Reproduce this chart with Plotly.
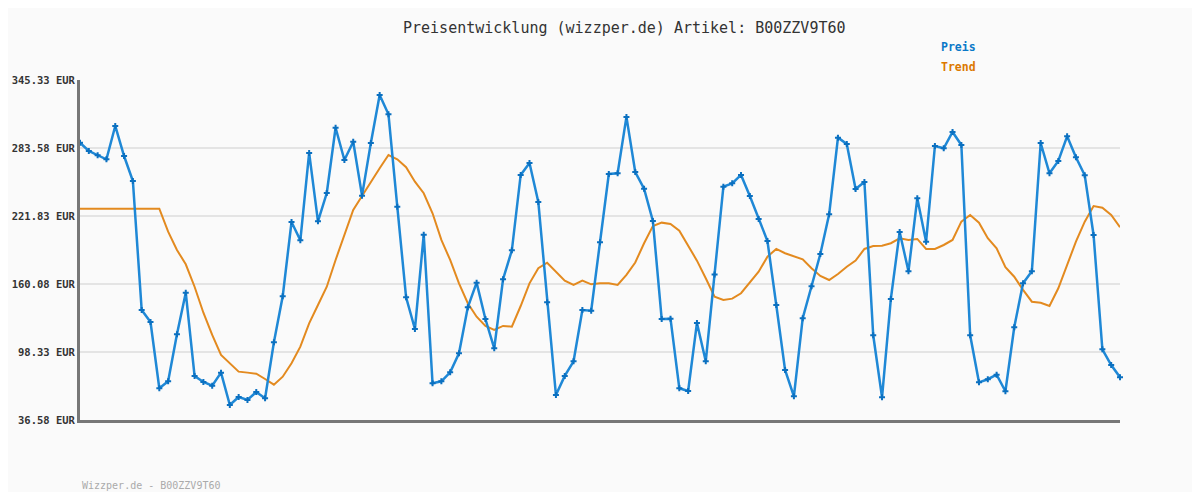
import plotly.graph_objects as go

# Price series (EUR)
preis = [288.4, 280.9, 277.0, 273.3, 303.6, 276.3, 253.6, 136.5, 125.6, 65.4,
         71.7, 114.4, 152.2, 76.6, 71.1, 67.7, 79.6, 50.2, 57.5, 54.8,
         62.0, 56.3, 107.2, 148.9, 216.4, 199.8, 279.1, 217.0, 242.7, 302.0,
         272.7, 289.3, 240.3, 288.1, 331.7, 314.2, 230.3, 148.0, 119.2, 204.9,
         69.9, 71.7, 79.9, 97.2, 138.9, 161.3, 128.3, 101.7, 164.4, 190.7,
         259.1, 270.0, 234.6, 143.5, 59.3, 76.6, 89.9, 136.5, 135.9, 198.0,
         260.0, 260.6, 311.8, 261.8, 246.6, 217.3, 128.3, 128.6, 65.4, 62.9,
         124.7, 89.9, 168.7, 248.5, 251.5, 259.1, 240.0, 219.1, 199.1, 141.0,
         82.0, 58.1, 129.0, 158.0, 187.3, 223.4, 293.0, 287.2, 246.4, 252.7,
         113.5, 57.2, 146.5, 207.3, 171.6, 237.9, 198.5, 285.4, 283.3, 298.1,
         286.3, 113.5, 70.8, 73.6, 77.7, 62.7, 120.8, 160.7, 171.6, 288.1,
         260.6, 271.8, 294.2, 275.2, 258.8, 204.6, 100.8, 86.5, 75.4]

# Trend series (EUR)
trend = [228.5, 228.5, 228.5, 228.5, 228.5, 228.5, 228.5, 228.5, 228.5, 228.5,
         207.6, 191.0, 178.0, 157.6, 134.0, 113.8, 95.6, 88.1, 80.5, 79.6,
         78.6, 73.8, 68.7, 75.9, 88.1, 103.2, 124.4, 141.0, 157.6, 181.9,
         204.6, 227.3, 240.0, 253.0, 265.2, 277.2, 273.3, 266.1, 253.0, 242.5,
         224.3, 200.1, 181.9, 160.7, 142.6, 130.4, 122.0, 118.3, 122.0, 121.3,
         140.1, 160.7, 174.4, 179.4, 171.3, 163.1, 159.2, 163.1, 159.8, 160.7,
         160.7, 159.2, 168.3, 179.6, 197.1, 212.8, 215.8, 214.6, 208.5, 195.5,
         181.3, 165.3, 148.6, 145.6, 146.8, 151.7, 161.3, 171.3, 184.9, 191.9,
         188.0, 184.9, 182.5, 174.4, 167.4, 163.7, 169.2, 175.8, 181.3, 191.9,
         194.6, 194.9, 197.1, 201.6, 200.1, 201.0, 191.9, 191.9, 195.5, 200.1,
         216.7, 222.8, 215.8, 201.6, 192.5, 175.3, 166.7, 154.7, 144.0, 143.1,
         140.1, 156.2, 177.4, 198.5, 216.7, 230.9, 229.4, 222.8, 211.6]

tick_values = [36.58, 98.33, 160.08, 221.83, 283.58, 345.33]
tick_labels = ["36.58 EUR", "98.33 EUR", "160.08 EUR", "221.83 EUR", "283.58 EUR", "345.33 EUR"]

title_text = "Preisentwicklung (wizzper.de) Artikel: B00ZZV9T60"
footer_text = "Wizzper.de - B00ZZV9T60"

x = list(range(len(preis)))
MONO = "DejaVu Sans Mono"

fig = go.Figure()
fig.add_trace(go.Scatter(
    x=x, y=trend, mode="lines", name="Trend",
    line=dict(color="#e38a1f", width=2), cliponaxis=False, hoverinfo="skip"))
fig.add_trace(go.Scatter(
    x=x, y=preis, mode="lines+markers", name="Preis",
    line=dict(color="#1f88d6", width=2.5),
    marker=dict(symbol="cross", size=5, color="#0b70c0", line=dict(width=0)),
    cliponaxis=False))

fig.update_layout(
    width=1184, height=484,
    margin=dict(l=72, r=72, t=72, b=72, autoexpand=False),
    paper_bgcolor="#fafafa", plot_bgcolor="#fafafa",
    showlegend=False,
    font=dict(family=MONO, color="#333333"),
    xaxis=dict(range=[0, len(preis) - 1], showgrid=False, zeroline=False,
               showticklabels=False, ticks="", showline=True, automargin=False,
               linecolor="#777777", linewidth=3),
    yaxis=dict(range=[tick_values[0], tick_values[-1]], tickvals=tick_values,
               ticktext=tick_labels, showgrid=True, gridcolor="#e4e4e4",
               gridwidth=2, zeroline=False, showline=True, automargin=False,
               linecolor="#777777", linewidth=3, ticks="",
               ticklabelstandoff=0,
               tickfont=dict(family=MONO, size=10.5, color="#333333",
                             weight="bold")),
)

fig.add_annotation(text=title_text, xref="paper", yref="paper",
                   x=(624.5 - 80) / 1040, y=1 + (80 - 28) / 340,
                   xanchor="center", yanchor="middle", showarrow=False,
                   font=dict(family=MONO, size=15, color="#333333"))
fig.add_annotation(text="Preis", xref="paper", yref="paper",
                   x=(939 - 80) / 1040, y=1 + (80 - 47) / 340,
                   xanchor="left", yanchor="middle", showarrow=False,
                   font=dict(family=MONO, size=11.5, color="#0a78c8", weight="bold"))
fig.add_annotation(text="Trend", xref="paper", yref="paper",
                   x=(939 - 80) / 1040, y=1 + (80 - 67) / 340,
                   xanchor="left", yanchor="middle", showarrow=False,
                   font=dict(family=MONO, size=11.5, color="#dc7800", weight="bold"))
fig.add_annotation(text=footer_text, xref="paper", yref="paper",
                   x=0, y=-(485 - 420) / 340,
                   xanchor="left", yanchor="middle", showarrow=False,
                   font=dict(family=MONO, size=10, color="#aaaaaa"))

fig.write_html("out.html")
